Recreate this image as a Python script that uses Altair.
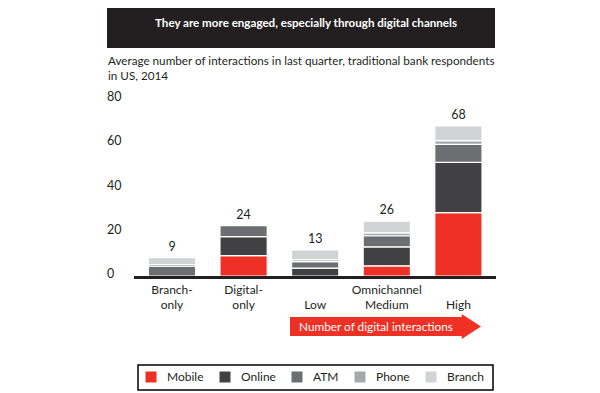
import altair as alt
import pandas as pd

FONT = "Lato"
TXT = "#231F20"

segments = ["Mobile", "Online", "ATM", "Phone", "Branch"]
seg_colors = ["#EE3124", "#414042", "#6D6E71", "#A7A9AC", "#D1D3D4"]
groups = ["Branch-only", "Digital-only", "Low", "Medium", "High"]
line1 = ["Branch-", "Digital-", "", "Omnichannel", ""]
line2 = ["only", "only", "Low", "Medium", "High"]
mobile = [0, 9.2, 0, 4.6, 28.6]
online = [0, 8.6, 3.6, 8.6, 22.8]
atm = [4.4, 5.0, 2.9, 5.0, 8.1]
phone = [0.8, 0, 0.9, 1.3, 1.7]
branch = [3.1, 0, 4.4, 5.3, 6.6]
total_labels = ["9", "24", "13", "26", "68"]
y_ticks = [0, 20, 40, 60, 80]

title_text = "They are more engaged, especially through digital channels"
subtitle1 = "Average number of interactions in last quarter, traditional bank respondents"
subtitle2 = "in US, 2014"
arrow_text = "Number of digital interactions"

series = [mobile, online, atm, phone, branch]
rows = []
for si, (name, vals) in enumerate(zip(segments, series)):
    for g, v in zip(groups, vals):
        if v > 0:
            rows.append({"group": g, "segment": name, "value": v, "ord": si})
bars_df = pd.DataFrame(rows)

tot_df = pd.DataFrame({
    "group": groups,
    "total": [sum(s[i] for s in series) for i in range(len(groups))],
    "label": total_labels,
})
lab_df = pd.DataFrame({"group": groups, "l1": line1, "l2": line2})
tick_df = pd.DataFrame({"tick": y_ticks, "text": [str(t) for t in y_ticks]})
one = pd.DataFrame({"a": [0]})

y_scale = alt.Scale(domain=[0, 80], range=[268, 91])
x_scale = alt.Scale(domain=groups, range=[128.2, 486.2], paddingInner=0.34, paddingOuter=0.17)

bars = alt.Chart(bars_df).mark_bar(stroke="white", strokeWidth=1.2).encode(
    x=alt.X("group:N", scale=x_scale, axis=None, sort=groups),
    y=alt.Y("value:Q", stack="zero", scale=y_scale, axis=None),
    color=alt.Color(
        "segment:N",
        scale=alt.Scale(domain=segments, range=seg_colors),
        legend=alt.Legend(
            orient="none", legendX=137, legendY=363, direction="horizontal",
            title=None, symbolType="square", symbolSize=121, symbolStrokeWidth=0,
            symbolOpacity=1, labelFontSize=12, labelFont=FONT, labelColor=TXT,
            labelOffset=10, columnPadding=15, padding=0,
        ),
    ),
    order=alt.Order("ord:Q", sort="ascending"),
)

totals = alt.Chart(tot_df).mark_text(
    dy=-11, fontSize=12.5, font=FONT, color=TXT, baseline="middle"
).encode(
    x=alt.X("group:N", scale=x_scale, axis=None, sort=groups),
    y=alt.Y("total:Q", scale=y_scale, axis=None),
    text="label:N",
)

ticks = alt.Chart(tick_df).mark_text(
    align="left", baseline="middle", dy=-2, fontSize=12.5, font=FONT, color=TXT
).encode(
    x=alt.value(99),
    y=alt.Y("tick:Q", scale=y_scale, axis=None),
    text="text:N",
)

xl1 = alt.Chart(lab_df).mark_text(baseline="middle", fontSize=12, font=FONT, color=TXT).encode(
    x=alt.X("group:N", scale=x_scale, axis=None, sort=groups),
    y=alt.value(282),
    text="l1:N",
)
xl2 = alt.Chart(lab_df).mark_text(baseline="middle", fontSize=12, font=FONT, color=TXT).encode(
    x=alt.X("group:N", scale=x_scale, axis=None, sort=groups),
    y=alt.value(296.5),
    text="l2:N",
)

axis_line = alt.Chart(one).mark_rule(color=TXT, strokeWidth=3).encode(
    x=alt.value(126), x2=alt.value(488), y=alt.value(269.5)
)

title_box = alt.Chart(one).mark_rect(color=TXT).encode(
    x=alt.value(99), x2=alt.value(487), y=alt.value(0), y2=alt.value(40)
)
title = alt.Chart(one).mark_text(
    text=title_text, color="white", fontWeight="bold", fontSize=11.6, font=FONT,
    align="center", baseline="middle"
).encode(x=alt.value(298), y=alt.value(16))

sub1 = alt.Chart(one).mark_text(
    text=subtitle1, color=TXT, fontSize=11.7, font=FONT, align="left", baseline="middle"
).encode(x=alt.value(100), y=alt.value(53))
sub2 = alt.Chart(one).mark_text(
    text=subtitle2, color=TXT, fontSize=11.7, font=FONT, align="left", baseline="middle"
).encode(x=alt.value(100), y=alt.value(68))

arrow_path = "M -1 -0.0995 L 0.798 -0.0995 L 0.798 -0.131 L 1 0 L 0.798 0.131 L 0.798 0.0995 L -1 0.0995 Z"
arrow = alt.Chart(one).mark_point(
    shape=arrow_path, size=191 * 191, filled=True, color="#EE3124", opacity=1, strokeWidth=0
).encode(x=alt.value(377.5), y=alt.value(318.5))
arrow_lbl = alt.Chart(one).mark_text(
    text=arrow_text, color="white", fontSize=11.8, font=FONT, align="left", baseline="middle"
).encode(x=alt.value(291), y=alt.value(318.5))

legend_box = alt.Chart(one).mark_rect(fillOpacity=0, stroke="black", strokeWidth=1.5).encode(
    x=alt.value(130), x2=alt.value(485), y=alt.value(357), y2=alt.value(382)
)

chart = alt.layer(
    title_box, title, sub1, sub2, ticks, bars, axis_line, totals, xl1, xl2,
    arrow, arrow_lbl, legend_box
).properties(
    width=584, height=385, autosize=alt.AutoSizeParams(type="none"), padding=0
).configure_view(stroke=None)

chart.save("out.html", embed_options={"renderer": "svg", "actions": False})
